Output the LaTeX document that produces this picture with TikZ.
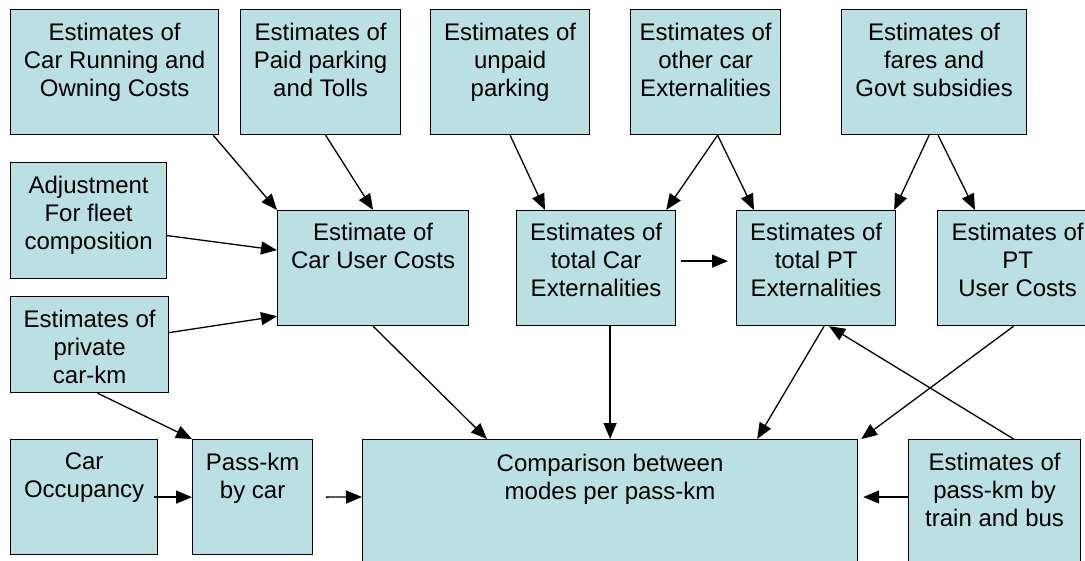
\documentclass[tikz,border=0pt]{standalone}
\usepackage{fontspec}
\setmainfont{Liberation Sans}
\usepackage{tikz}
\usetikzlibrary{positioning, calc, arrows.meta}

\definecolor{boxfill}{RGB}{187,224,228}

\begin{document}
\begin{tikzpicture}[
    x=1pt, y=-1pt,
    box/.style={draw=black, fill=boxfill, line width=1.2pt, anchor=north west, inner sep=0pt},
    txt/.style={anchor=north, align=center, inner sep=0pt, font=\fontsize{24}{27.8}\selectfont},
    >={Triangle[length=16pt, width=13pt]},
    link/.style={->, line width=1.3pt},
]
    \useasboundingbox (0,0) rectangle (1085,560);

    % top row
    \node[box, minimum width=208pt, minimum height=125pt] (carrun) at (10,9) {};
    \node[txt, below=14pt of carrun.north] (carrun-t) {Estimates of\\Car Running and\\Owning Costs};
    \node[box, minimum width=160pt, minimum height=125pt] (paid) at (240,9) {};
    \node[txt, below=14pt of paid.north] (paid-t) {Estimates of\\Paid parking\\and Tolls};
    \node[box, minimum width=159pt, minimum height=125pt] (unpaid) at (430,9) {};
    \node[txt, below=14pt of unpaid.north] (unpaid-t) {Estimates of\\unpaid\\parking};
    \node[box, minimum width=150pt, minimum height=125pt] (other) at (630,9) {};
    \node[txt, below=14pt of other.north] (other-t) {Estimates of\\other car\\Externalities};
    \node[box, minimum width=185pt, minimum height=125pt] (fares) at (841,9) {};
    \node[txt, below=14pt of fares.north] (fares-t) {Estimates of\\fares and\\Govt subsidies};

    % middle row
    \node[box, minimum width=156pt, minimum height=116pt] (adjust) at (10,162) {};
    \node[txt, below=14pt of adjust.north] (adjust-t) {Adjustment\\For fleet\\composition};
    \node[box, minimum width=158pt, minimum height=96pt] (private) at (10,296) {};
    \node[txt, below=14pt of private.north] (private-t) {Estimates of\\private\\car-km};
    \node[box, minimum width=191pt, minimum height=115pt] (caruser) at (277,210) {};
    \node[txt, below=13pt of caruser.north] (caruser-t) {Estimate of\\Car User Costs};
    \node[box, minimum width=159pt, minimum height=115pt] (totcar) at (516,210) {};
    \node[txt, below=13pt of totcar.north] (totcar-t) {Estimates of\\total Car\\Externalities};
    \node[box, minimum width=159pt, minimum height=115pt] (totpt) at (736,210) {};
    \node[txt, below=13pt of totpt.north] (totpt-t) {Estimates of\\total PT\\Externalities};
    \node[box, minimum width=160pt, minimum height=115pt] (ptuser) at (937,210) {};
    \node[txt, below=13pt of ptuser.north] (ptuser-t) {Estimates of\\PT\\User Costs};

    % bottom row
    \node[box, minimum width=147pt, minimum height=115pt] (occup) at (10,439) {};
    \node[txt, below=14pt of occup.north] (occup-t) {Car\\Occupancy};
    \node[box, minimum width=120pt, minimum height=115pt] (passcar) at (192,439) {};
    \node[txt, below=14pt of passcar.north] (passcar-t) {Pass-km\\by car};
    \node[box, minimum width=495pt, minimum height=135pt] (compare) at (362,439) {};
    \node[txt, below=15pt of compare.north] (compare-t) {Comparison between\\modes per pass-km};
    \node[box, minimum width=172pt, minimum height=135pt] (train) at (908,439) {};
    \node[txt, below=14pt of train.north] (train-t) {Estimates of\\pass-km by\\train and bus};

    % into car user costs
    \draw[link] ([xshift=-6pt]carrun.south east) -- (caruser.north west);
    \draw[link] ([xshift=5pt]paid.south) -- (caruser.north);
    \draw[link] ([yshift=-15pt]adjust.east) -- ([yshift=18pt]caruser.west);
    \draw[link] ([yshift=12pt]private.east) -- ([yshift=10pt]caruser.south west);

    % externalities
    \draw[link] (unpaid.south) -- ([xshift=29pt]totcar.north west);
    \draw[link] ([xshift=12pt]other.south) -- ([xshift=-10pt]totcar.north east);
    \draw[link] ([xshift=12pt]other.south) -- ([xshift=18pt]totpt.north west);
    \draw[link] ([xshift=-5pt]fares.south) -- ([xshift=-2pt]totpt.north east);
    \draw[link] ([xshift=4pt]fares.south) -- ([xshift=38pt]ptuser.north west);
    \draw[link] ([xshift=5pt,yshift=7pt]totcar.east) -- ([xshift=-8pt,yshift=7pt]totpt.west);

    % pass-km by car
    \draw[link] ([xshift=8pt]private.south) -- (passcar.north west);
    \draw[link] ([xshift=-4pt]occup.east) -- (passcar.west);
    \draw[link] ([xshift=13pt]passcar.east) -- ([yshift=-58pt]compare.north west);

    % into the comparison
    \draw[link] (caruser.south) -- ([xshift=125pt]compare.north west);
    \draw[link] (compare.north |- totcar.south) -- (compare.north);
    \draw[link] ([xshift=8pt]totpt.south) -- ([xshift=-101pt]compare.north east);
    \draw[link] ([xshift=-4pt]ptuser.south) -- ([xshift=3pt]compare.north east);
    \draw[link] ([xshift=19pt]train.north) -- ([xshift=13pt]totpt.south);
    \draw[link] ([yshift=-58pt]train.north west) -- ([xshift=5pt,yshift=-58pt]compare.north east);

\end{tikzpicture}
\end{document}
